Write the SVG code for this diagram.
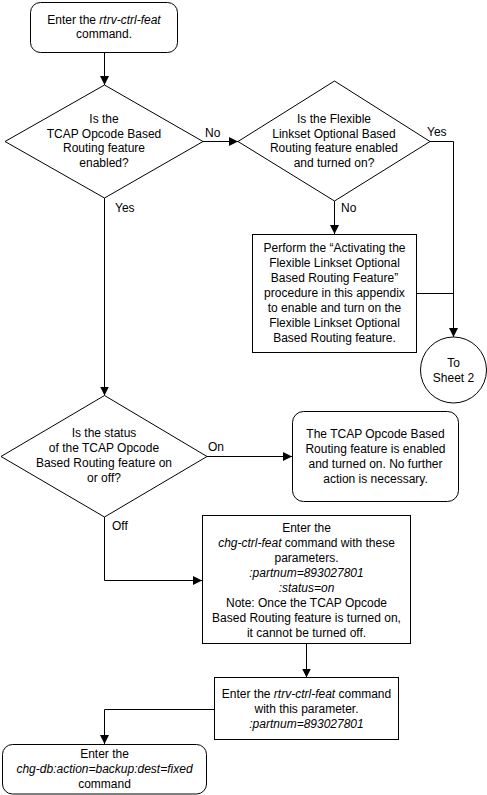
<svg xmlns="http://www.w3.org/2000/svg" width="487" height="795" viewBox="0 0 487 795">
<defs>
<style>
.s{fill:#fff;stroke:#000;stroke-width:1}
.c{fill:none;stroke:#000;stroke-width:1}
text{font-family:"Liberation Sans",Arial,sans-serif;font-size:12px;fill:#000}
.m{text-anchor:middle}
.i{font-style:italic}
</style>
<marker id="a" markerUnits="userSpaceOnUse" markerWidth="10" markerHeight="10" refX="9" refY="4.5" orient="auto">
<path d="M0,0 L9,4.5 L0,9 z" fill="#000"/>
</marker>
</defs>
<rect width="487" height="795" fill="#fff"/>
<g id="connectors">
<path class="c" d="M104.5,52 V85" marker-end="url(#a)"/>
<path class="c" d="M203,141.5 H238" marker-end="url(#a)"/>
<path class="c" d="M430,141.5 H453.5 V337" marker-end="url(#a)"/>
<path class="c" d="M334.5,201 V234" marker-end="url(#a)"/>
<path class="c" d="M416,293.5 H453.5"/>
<path class="c" d="M104.5,198 V395.5" marker-end="url(#a)"/>
<path class="c" d="M207,456.5 H292" marker-end="url(#a)"/>
<path class="c" d="M104.5,517 V580.5 H202" marker-end="url(#a)"/>
<path class="c" d="M306.5,644 V677.5" marker-end="url(#a)"/>
<path class="c" d="M214,709.5 H104.5 V744" marker-end="url(#a)"/>
<text x="205" y="137">No</text>
<text x="427" y="136">Yes</text>
<text x="341" y="212">No</text>
<text x="115" y="212">Yes</text>
<text x="208" y="451">On</text>
<text x="112" y="530">Off</text>
</g>
<g id="start">
<rect class="s" x="30.5" y="2.5" width="147" height="50" rx="10"/>
<text class="m" x="104" y="23.5">Enter the <tspan class="i">rtrv-ctrl-feat</tspan></text>
<text class="m" x="104" y="38">command.</text>
</g>
<g id="d1">
<path class="s" d="M104.5,85 L203,141.5 L104.5,198 L5,141.5 Z"/>
<text class="m" x="104" y="122.8">Is the</text>
<text class="m" x="104" y="137.5">TCAP Opcode Based</text>
<text class="m" x="104" y="152.3">Routing feature</text>
<text class="m" x="104" y="167">enabled?</text>
</g>
<g id="d2">
<path class="s" d="M334.5,81 L430,141.5 L334.5,201 L238,141.5 Z"/>
<text class="m" x="334" y="122.8">Is the Flexible</text>
<text class="m" x="334" y="137.5">Linkset Optional Based</text>
<text class="m" x="334" y="152.3">Routing feature enabled</text>
<text class="m" x="334" y="167">and turned on?</text>
</g>
<g id="box2">
<rect class="s" x="252.5" y="234.5" width="164" height="118"/>
<text class="m" x="334.5" y="252">Perform the “Activating the</text>
<text class="m" x="334.5" y="267">Flexible Linkset Optional</text>
<text class="m" x="334.5" y="282">Based Routing Feature”</text>
<text class="m" x="334.5" y="297">procedure in this appendix</text>
<text class="m" x="334.5" y="312">to enable and turn on the</text>
<text class="m" x="334.5" y="327">Flexible Linkset Optional</text>
<text class="m" x="334.5" y="342">Based Routing feature.</text>
</g>
<g id="sheet2">
<circle class="s" cx="453.5" cy="370" r="33"/>
<text class="m" x="453.5" y="367">To</text>
<text class="m" x="453.5" y="382">Sheet 2</text>
</g>
<g id="d3">
<path class="s" d="M104.5,395.5 L207,456.5 L104.5,517 L1,456.5 Z"/>
<text class="m" x="104" y="437">Is the status</text>
<text class="m" x="104" y="452">of the TCAP Opcode</text>
<text class="m" x="104" y="467">Based Routing feature on</text>
<text class="m" x="104" y="482">or off?</text>
</g>
<g id="box3">
<rect class="s" x="292.5" y="411.5" width="166" height="90" rx="11"/>
<text class="m" x="375.5" y="438">The TCAP Opcode Based</text>
<text class="m" x="375.5" y="453">Routing feature is enabled</text>
<text class="m" x="375.5" y="468">and turned on. No further</text>
<text class="m" x="375.5" y="483">action is necessary.</text>
</g>
<g id="box4">
<rect class="s" x="202.5" y="515.5" width="208" height="128"/>
<text class="m" x="306.5" y="532">Enter the</text>
<text class="m" x="306.5" y="547"><tspan class="i">chg-ctrl-feat</tspan> command with these</text>
<text class="m" x="306.5" y="562">parameters.</text>
<text class="m i" x="306.5" y="577">:partnum=893027801</text>
<text class="m i" x="306.5" y="592">:status=on</text>
<text class="m" x="306.5" y="607">Note: Once the TCAP Opcode</text>
<text class="m" x="306.5" y="622">Based Routing feature is turned on,</text>
<text class="m" x="306.5" y="637">it cannot be turned off.</text>
</g>
<g id="box5">
<rect class="s" x="214.5" y="677.5" width="184" height="62"/>
<text class="m" x="306.5" y="698">Enter the <tspan class="i">rtrv-ctrl-feat</tspan> command</text>
<text class="m" x="306.5" y="713">with this parameter.</text>
<text class="m i" x="306.5" y="728">:partnum=893027801</text>
</g>
<g id="box6">
<rect class="s" x="2.5" y="744.5" width="204" height="49.5" rx="10"/>
<text class="m" x="104.5" y="758">Enter the</text>
<text class="m i" x="104.5" y="773">chg-db:action=backup:dest=fixed</text>
<text class="m" x="104.5" y="788">command</text>
</g>
</svg>
